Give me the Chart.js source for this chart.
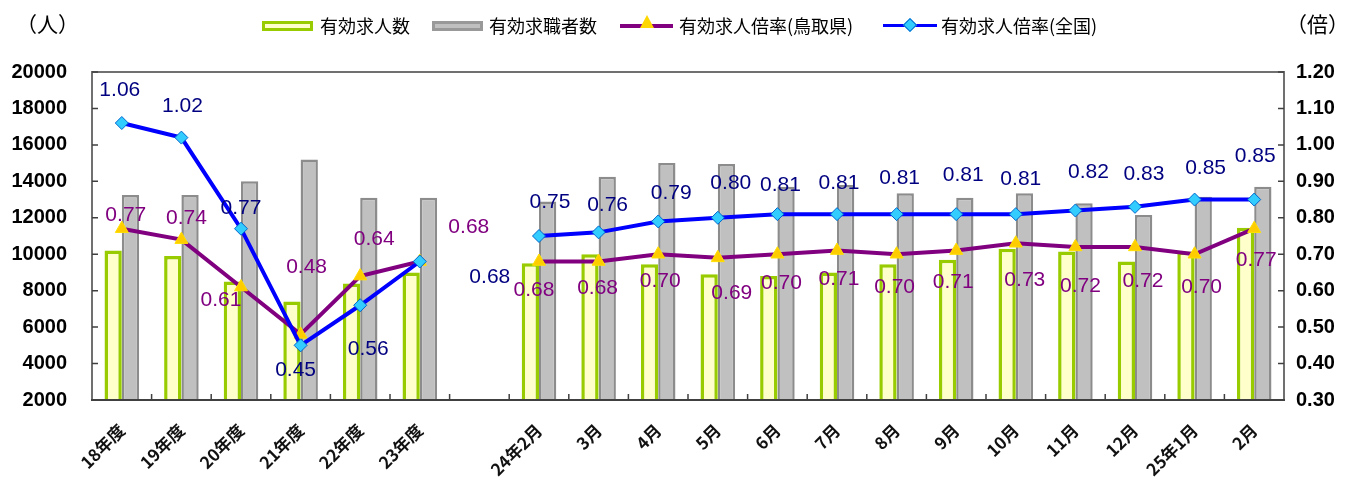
<!DOCTYPE html>
<html>
<head>
<meta charset="utf-8">
<script src="https://cdn.jsdelivr.net/npm/chart.js@4.4.1/dist/chart.umd.min.js"></script>
<style>
  body { margin: 0; background: #fff; }
  #wrap { position: relative; width: 1348px; height: 486px; }
  #chart { position: absolute; left: 0; top: 0; }
  .t { position: absolute; font-family: "Noto Sans CJK JP", sans-serif; font-size: 18px; line-height: 22px; color: #000; white-space: nowrap; }
  .unit { font-size: 21px; }
  .sym { position: absolute; box-sizing: border-box; }
</style>
</head>
<body>
<div id="wrap">
  <canvas id="chart" width="1348" height="486"></canvas>
  <div class="t unit" style="left:16px;top:12px">（人）</div>
  <div class="t unit" style="left:1286px;top:12px">（倍）</div>

  <div class="sym" style="left:262px;top:21px;width:51px;height:10px;background:#FFFFCC;border:3px solid #99CC00"></div>
  <div class="t" style="left:320px;top:14px">有効求人数</div>
  <div class="sym" style="left:432px;top:21px;width:51px;height:10px;background:#C0C0C0;border:3px solid #999"></div>
  <div class="t" style="left:489px;top:14px">有効求職者数</div>
  <div class="sym" style="left:620px;top:24px;width:53px;height:4px;background:#800080"></div>
  <div class="sym" style="left:640px;top:15px;width:0;height:0;border-left:7px solid transparent;border-right:7px solid transparent;border-bottom:13px solid #FFD700"></div>
  <div class="t" style="left:679px;top:14px">有効求人倍率(鳥取県)</div>
  <div class="sym" style="left:883px;top:24px;width:54px;height:3px;background:#0000FF"></div>
  <div class="sym" style="left:905px;top:20px;width:10px;height:10px;background:#33CCFF;border:1px solid #0066CC;transform:rotate(45deg)"></div>
  <div class="t" style="left:941px;top:14px">有効求人倍率(全国)</div>
</div>

<script>
// categories (blank one is the gap between fiscal years and months)
const labels = ['18年度', '19年度', '20年度', '21年度', '22年度', '23年度', '',
  '24年2月', '3月', '4月', '5月', '6月', '7月', '8月', '9月', '10月', '11月', '12月', '25年1月', '2月']

// 有効求人数 / 有効求職者数 (人)
const openings = [10200, 9900, 8500, 7400, 8400, 9000, null,
  9500, 10000, 9450, 8900, 8800, 9000, 9450, 9700, 10300, 10150, 9600, 10150, 11450]
const seekers = [13250, 13250, 14000, 15200, 13100, 13100, null,
  12900, 14250, 15000, 14950, 13700, 13800, 13350, 13100, 13350, 12800, 12150, 13150, 13700]

// 有効求人倍率 (倍)
const ratioTottori = [0.77, 0.74, 0.61, 0.48, 0.64, 0.68, null,
  0.68, 0.68, 0.70, 0.69, 0.70, 0.71, 0.70, 0.71, 0.73, 0.72, 0.72, 0.70, 0.77]
const ratioJapan = [1.06, 1.02, 0.77, 0.45, 0.56, 0.68, null,
  0.75, 0.76, 0.79, 0.80, 0.81, 0.81, 0.81, 0.81, 0.81, 0.82, 0.83, 0.85, 0.85]

// where each value label sits relative to its point (dx, dy)
const tottoriLabelOffset = [[4, -14], [5, -21], [-20, 13], [6, -67], [14, -37], [49, -34], null,
  [-5, 29], [-1, 27], [2, 27], [14, 35], [4, 29], [2, 29], [-2, 33], [-3, 32], [9, 37], [5, 39], [8, 34], [7, 33], [2, 31]]
const japanLabelOffset = [[-2, -33], [1, -31], [0, -21], [-5, 25], [8, 44], [70, 16], null,
  [11, -34], [9, -27], [13, -28], [13, -35], [3, -29], [2, -31], [3, -36], [7, -39], [5, -35], [13, -38], [9, -33], [11, -31], [1, -43]]

const valueLabels = {
  id: 'valueLabels',
  afterDatasetsDraw(chart) {
    const ctx = chart.ctx
    ctx.save()
    ctx.font = '21px "Liberation Sans", Arial, sans-serif'
    ctx.textAlign = 'center'
    ctx.textBaseline = 'middle'
    const sets = [[0, ratioTottori, tottoriLabelOffset, '#800080'], [1, ratioJapan, japanLabelOffset, '#000080']]
    for (let [idx, values, offsets, color] of sets) {
      const meta = chart.getDatasetMeta(idx)
      ctx.fillStyle = color
      meta.data.forEach((pt, i) => {
        if (values[i] == null) return
        const [dx, dy] = offsets[i]
        ctx.fillText(values[i].toFixed(2), pt.x + dx, pt.y + dy)
      })
    }
    ctx.restore()
  }
}

// plot frame plus the small inward tick marks
const frame = {
  id: 'frame',
  afterDatasetsDraw(chart) {
    const { ctx, chartArea: a, scales } = chart
    ctx.save()
    ctx.strokeStyle = '#707070'
    ctx.lineWidth = 2
    ctx.strokeRect(a.left, a.top, a.right - a.left, a.bottom - a.top)
    ctx.strokeStyle = '#404040'
    ctx.beginPath()
    ctx.moveTo(a.left - 1, a.bottom)
    ctx.lineTo(a.right + 1, a.bottom)
    ctx.stroke()
    ctx.lineWidth = 1.5
    ctx.beginPath()
    for (let t of scales.y.ticks) {
      const py = scales.y.getPixelForValue(t.value)
      ctx.moveTo(a.left, py); ctx.lineTo(a.left + 6, py)
    }
    for (let t of scales.y1.ticks) {
      const py = scales.y1.getPixelForValue(t.value)
      ctx.moveTo(a.right, py); ctx.lineTo(a.right - 6, py)
    }
    const step = scales.x.getPixelForValue(1) - scales.x.getPixelForValue(0)
    for (let i = 1; i < labels.length; i++) {
      const px = scales.x.getPixelForValue(i) - step / 2
      ctx.moveTo(px, a.bottom); ctx.lineTo(px, a.bottom - 6)
    }
    ctx.stroke()
    ctx.restore()
  }
}

new Chart(document.getElementById('chart'), {
  data: {
    labels,
    datasets: [
      {
        type: 'line', label: '有効求人倍率(鳥取県)', data: ratioTottori, yAxisID: 'y1', order: 1,
        borderColor: '#800080', borderWidth: 4, tension: 0, spanGaps: false,
        pointStyle: 'triangle', pointRadius: 7.5, pointBackgroundColor: '#FFCC00', pointBorderColor: '#FFE000', pointBorderWidth: 1
      },
      {
        type: 'line', label: '有効求人倍率(全国)', data: ratioJapan, yAxisID: 'y1', order: 0,
        borderColor: '#0000FF', borderWidth: 4, tension: 0, spanGaps: false,
        pointStyle: 'rectRot', pointRadius: 6.5, pointBackgroundColor: '#33CCFF', pointBorderColor: '#0066CC', pointBorderWidth: 1
      },
      {
        type: 'bar', label: '有効求人数', data: openings, yAxisID: 'y', order: 2,
        backgroundColor: '#FFFFCC', borderColor: '#99CC00', borderWidth: 3.5, borderSkipped: false,
        categoryPercentage: 0.58, barPercentage: 1.0
      },
      {
        type: 'bar', label: '有効求職者数', data: seekers, yAxisID: 'y', order: 2,
        backgroundColor: '#C0C0C0', borderColor: '#8C8C8C', borderWidth: 2.5, borderSkipped: false,
        categoryPercentage: 0.58, barPercentage: 1.0
      }
    ]
  },
  options: {
    responsive: false,
    animation: false,
    devicePixelRatio: 1,
    layout: { padding: { top: 72, left: 0, right: 0, bottom: 0 } },
    plugins: { legend: { display: false }, tooltip: { enabled: false } },
    scales: {
      x: {
        grid: { display: false, drawTicks: false }, border: { display: false },
        ticks: {
          autoSkip: false, minRotation: 45, maxRotation: 45, padding: 20, color: '#111',
          font: { family: '"Noto Sans CJK JP", sans-serif', size: 17, weight: 'bold' }
        },
        afterFit(s) { s.height = 86 }
      },
      y: {
        position: 'left', min: 2000, max: 20000,
        grid: { display: false, drawTicks: false }, border: { display: false },
        ticks: {
          stepSize: 2000, padding: 25, color: '#000', callback: v => String(v),
          font: { family: '"Liberation Sans", Arial', size: 20, weight: 'bold' }
        },
        afterFit(s) { s.width = 92 }
      },
      y1: {
        position: 'right', min: 0.3, max: 1.2,
        grid: { display: false, drawTicks: false }, border: { display: false },
        ticks: {
          stepSize: 0.1, padding: 12, color: '#000', callback: v => v.toFixed(2),
          font: { family: '"Liberation Sans", Arial', size: 20, weight: 'bold' }
        },
        afterFit(s) { s.width = 64 }
      }
    }
  },
  plugins: [frame, valueLabels]
})
</script>
</body>
</html>
